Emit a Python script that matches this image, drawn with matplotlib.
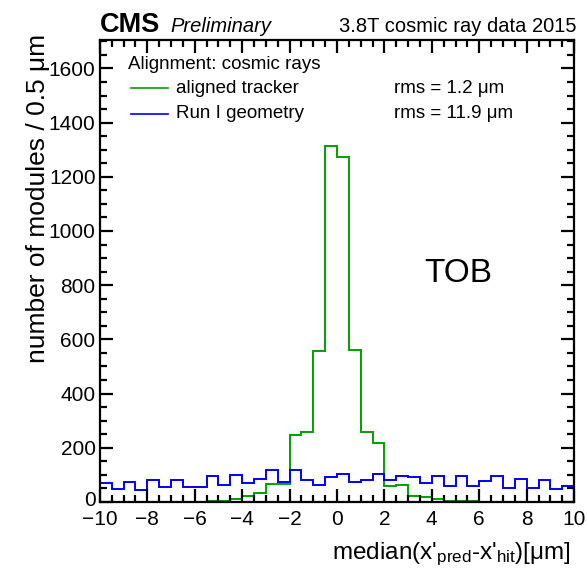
import matplotlib
matplotlib.use("Agg")
import matplotlib.pyplot as plt
from matplotlib.ticker import MultipleLocator
from matplotlib.transforms import ScaledTranslation
import numpy as np

# median residual per module, 0.5 um bins from -10 to 10 (TOB, cosmics 2015)
bin_edges = np.arange(-10.0, 10.01, 0.5)
aligned_counts = [0, 0, 0, 0, 0, 0, 0, 0, 1, 2,
                  4, 10, 20, 34, 66, 66, 247, 259, 558, 1315,
                  1272, 561, 259, 219, 59, 64, 22, 17, 10, 5,
                  3, 2, 1, 1, 1, 0, 0, 0, 0, 0]
run1_counts = [69, 48, 74, 44, 81, 54, 81, 56, 56, 97,
               62, 98, 71, 86, 119, 75, 116, 81, 63, 93,
               103, 75, 81, 103, 81, 96, 91, 69, 96, 57,
               96, 59, 76, 96, 53, 86, 53, 82, 49, 57]

series_labels = ["aligned tracker", "Run I geometry"]
rms_labels = ["rms = 1.2 μm", "rms = 11.9 μm"]

GREEN = "#00a000"
BLUE = "#0000ff"
FONT = "Liberation Sans"

plt.rcParams["font.family"] = FONT
plt.rcParams["mathtext.fontset"] = "custom"
plt.rcParams["mathtext.rm"] = FONT
plt.rcParams["mathtext.it"] = FONT + ":italic"

fig = plt.figure(figsize=(5.87, 5.71), dpi=100)
ax = fig.add_axes([0.170, 0.121, 0.808, 0.809])

ax.stairs(aligned_counts, bin_edges, color=GREEN, linewidth=1.4)
ax.stairs(run1_counts, bin_edges, color=BLUE, linewidth=1.4)

ax.set_xlim(-10, 10)
ax.set_ylim(0, 1705)

# ROOT-style frame: ticks inside on all four sides
ax.xaxis.set_major_locator(MultipleLocator(2))
ax.xaxis.set_minor_locator(MultipleLocator(0.5))
ax.yaxis.set_major_locator(MultipleLocator(200))
ax.yaxis.set_minor_locator(MultipleLocator(50))
ax.tick_params(which="both", direction="in", top=True, right=True, width=1.6)
ax.tick_params(which="major", length=9.5, labelsize=15)
ax.tick_params(axis="y", which="major", pad=3)
ax.tick_params(axis="x", which="major", pad=5.5)
ax.tick_params(which="minor", length=4.7)
for sp in ax.spines.values():
    sp.set_linewidth(1.6)

# legend block
ax.text(0.060, 0.938, "Alignment: cosmic rays", transform=ax.transAxes,
        fontsize=13.5, va="baseline")
for i, (lab, rms, col) in enumerate(zip(series_labels, rms_labels, [GREEN, BLUE])):
    y = 0.885 - i * 0.055
    ax.plot([0.065, 0.143], [y + 0.01, y + 0.01], transform=ax.transAxes,
            color=col, linewidth=1.2)
    ax.text(0.160, y, lab, transform=ax.transAxes, fontsize=13.5, va="baseline")
    ax.text(0.620, y, rms, transform=ax.transAxes, fontsize=13.5, va="baseline")

ax.text(0.685, 0.475, "TOB", transform=ax.transAxes, fontsize=24, va="baseline")

# header
fig.text(0.170, 0.944, "CMS", fontsize=19.5, fontweight="bold", va="baseline")
fig.text(0.290, 0.944, "Preliminary", fontsize=14.5, fontstyle="italic", va="baseline")
fig.text(0.982, 0.944, "3.8T cosmic ray data 2015", fontsize=14.5,
         ha="right", va="baseline")

# axis titles
fig.text(0.064, 0.940, "number of modules / 0.5 μm", fontsize=19,
         rotation=90, ha="center", va="top")
fig.text(0.972, 0.020, "median(x'$_{\\mathrm{pred}}$-x'$_{\\mathrm{hit}}$)[μm]",
         fontsize=17.5, ha="right", va="baseline")

# nudge the y "0" up a couple of pixels so it clears the -10 below
fig.canvas.draw()
for lbl in ax.get_yticklabels():
    if lbl.get_text() == "0":
        lbl.set_transform(lbl.get_transform()
                          + ScaledTranslation(0, 2.5 / 72, fig.dpi_scale_trans))

fig.savefig("out.png", dpi=100)
